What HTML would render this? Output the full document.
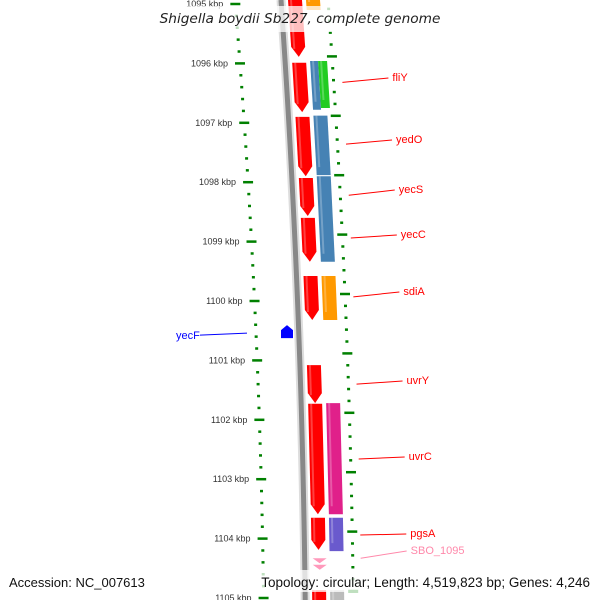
<!DOCTYPE html>
<html><head><meta charset="utf-8"><style>
body{margin:0;background:#fff}
svg{display:block;font-family:"Liberation Sans","DejaVu Sans",sans-serif}
</style></head><body>
<svg id="c" width="600" height="600" viewBox="0 0 600 600">
<g id="ticks"></g><g id="bb"></g><g id="genes"></g><g id="labels"></g>
<rect x="0" y="6" width="600" height="26" fill="#fff" opacity="0.75"/>
<text x="300" y="23" text-anchor="middle" font-size="13.7" font-style="italic" fill="#222" style="font-family:'DejaVu Sans',sans-serif">Shigella boydii Sb227, complete genome</text>
<rect x="0" y="570" width="600" height="22" fill="#fff" opacity="0.75"/>
<text x="9" y="587" font-size="13" fill="#111">Accession: NC_007613</text>
<text x="590" y="587" text-anchor="end" font-size="13.5" fill="#111">Topology: circular; Length: 4,519,823 bp; Genes: 4,246</text>
</svg>
<script>
const majorTicks=[1095,1096,1097,1098,1099,1100,1101,1102,1103,1104,1105];
const geneStarts=[1094.90,1095.99,1096.90,1097.93,1098.60,1099.58,1101.08,1101.73,1103.65,1104.87, 1094.80,1095.96,1095.96,1096.88,1097.90,1099.58,1101.72,1103.65,1104.87];
const geneEnds  =[1095.89,1096.82,1097.90,1098.57,1099.34,1100.32,1101.72,1103.59,1104.19,1105.20, 1095.10,1096.78,1096.75,1097.88,1099.34,1100.32,1103.59,1104.21,1105.20];
const geneTracks=[0,0,0,0,0,0,0,0,0,0, 1,1,1,1,1,1,1,1,1];
const geneHalf  =[0,0,0,0,0,0,0,0,0,0, 0,1,2,0,0,0,0,0,0];
const geneColors=["red","red","red","red","red","red","red","red","red","red","#f90","#4682b4","#2c2","#4682b4","#4682b4","#f90","#e0208a","#6a5acd","#bbb"];
const labelNames=["fliY","yedO","yecS","yecC","sdiA","uvrY","uvrC","pgsA","SBO_1095"];
const labelPos=[1096.32,1097.36,1098.22,1098.94,1099.93,1101.40,1102.66,1103.94,1104.33];
const labelTextY=[81,143,193,238,295,384,460,537,554];
const labelColors=["red","red","red","red","red","red","red","red","#f8a"];
const NS="http://www.w3.org/2000/svg";
function Y(k){return 4+(k-1095)*59.4;}
function f(y){return 0.0633*y-4.44e-5*y*y;}
function mk(tag,at,par){const e=document.createElementNS(NS,tag);for(const k in at)e.setAttribute(k,at[k]);document.getElementById(par).appendChild(e);return e;}
let pts=[];for(let y=0;y<=600;y+=10)pts.push((281+1.1*f(y))+","+y);
let bb=mk("polyline",{points:pts.join(" "),fill:"none",stroke:"#ddd","stroke-width":9},"bb");


let bb2=mk("polyline",{points:pts.join(" "),fill:"none",stroke:"#888","stroke-width":5},"bb");


for(let k=1094.8;k<=1105.21;k+=0.2){
  const kk=Math.round(k*10)/10;const isMaj=Math.abs(kk-Math.round(kk))<0.01;
  const y=Y(kk);const lx=235+1.3*f(y);
  const t=mk("line",{x1:lx-(isMaj?5:1.5),x2:lx+(isMaj?5:1.5),y1:y,y2:y,stroke:"green","stroke-width":2.5},"ticks");
  
  
  const yr=y-7;const rx=328+1.15*f(yr);
  const t2=mk("line",{x1:rx-(isMaj?5:1.5),x2:rx+(isMaj?5:1.5),y1:yr,y2:yr,stroke:"green","stroke-width":2.5},"ticks");
  
  
}
majorTicks.forEach(k=>{const y=Y(k);const lx=235+1.3*f(y);
  const t=mk("text",{x:lx-12,y:y+3,"text-anchor":"end","font-size":9,fill:"#333"},"ticks");t.textContent=k+" kbp";
  
  });
geneStarts.forEach((s,i)=>{
  const y1=Y(s),y2=Y(geneEnds[i]);const tr=geneTracks[i];
  let off=tr===0?7:25,w=14;
  if(geneHalf[i]===1){w=8;} if(geneHalf[i]===2){off=33;w=9;}
  const bx=y=>281+1.1*f(y)+off;
  let p;
  if(tr===0){const tip=Math.min(10,(y2-y1)/2);
    p=[[bx(y1),y1],[bx(y1)+w,y1],[bx(y2-tip)+w,y2-tip],[bx(y2)+w/2,y2],[bx(y2-tip),y2-tip]];}
  else p=[[bx(y1),y1],[bx(y1)+w,y1],[bx(y2)+w,y2],[bx(y2),y2]];
  const g=mk("polygon",{points:p.map(q=>q.join(",")).join(" "),fill:geneColors[i]},"genes");
  
  
  const hl=mk("polygon",{points:[[bx(y1)+2,y1],[bx(y1)+4,y1],[bx(y2-8)+4,y2-8],[bx(y2-8)+2,y2-8]].map(q=>q.join(",")).join(" "),fill:"#fff",opacity:0.25},"genes");
  
  
});
[1104.33,1104.44].forEach(k=>{const y=Y(k);const x=281+1.1*f(y)+8;
  const c=mk("polygon",{points:`${x},${y} ${x+14},${y} ${x+7},${y+5}`,fill:"#f9b"},"genes");
  
  });
{const y=Y(1100.54);const p=mk("polygon",{points:`281,${y-3} 287,${y-8} 293,${y-3} 293,${y+5} 281,${y+5}`,fill:"#00f"},"genes");
 
 
 const l=mk("line",{x1:200,y1:y+2,x2:247,y2:y,stroke:"#00f","stroke-width":1},"labels");
 
 
 const t=mk("text",{x:176,y:y+6,"font-size":11,fill:"#00f"},"labels");t.textContent="yecF";
 
 }
labelNames.forEach((n,i)=>{const y=Y(labelPos[i]);const x=337+1.1*f(y);const ty=labelTextY[i];
  const l=mk("line",{x1:x,y1:y,x2:x+46,y2:ty-3,stroke:labelColors[i],"stroke-width":1},"labels");
  
  
  const t=mk("text",{x:x+50,y:ty,"font-size":11,fill:labelColors[i]},"labels");t.textContent=n;
  
  });
</script>
</body></html>
